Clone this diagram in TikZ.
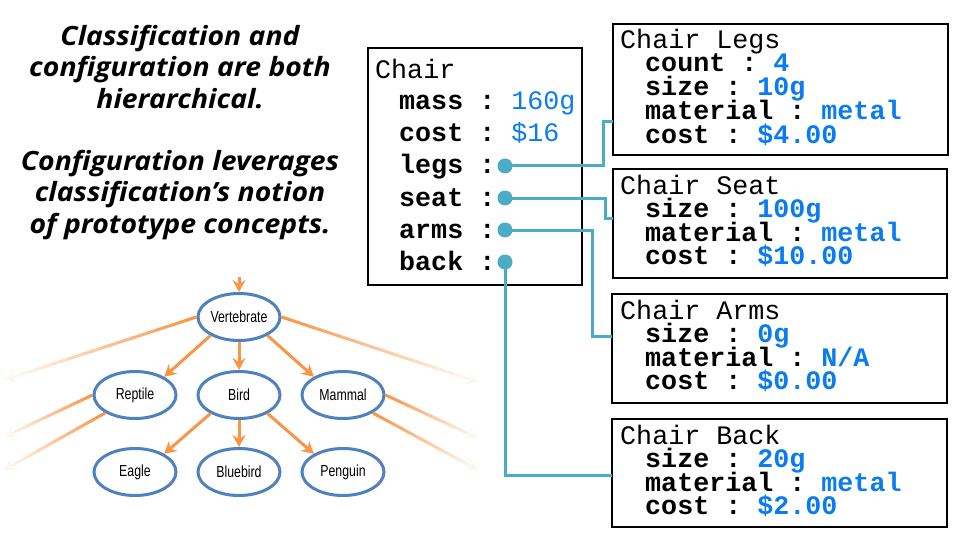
\documentclass[tikz,border=0pt]{standalone}
\usepackage{fontspec}
\setmonofont{Liberation Mono}
\newfontfamily\comicfont[FakeStretch=1.07]{Open Sans}
\newfontfamily\narrowsans[FakeStretch=0.77]{Liberation Sans}
\usetikzlibrary{arrows.meta,calc,shapes.geometric}
\definecolor{orng}{HTML}{F79646}
\definecolor{ellblue}{HTML}{4F81BD}
\definecolor{tealc}{HTML}{4BACC6}
\definecolor{valblue}{RGB}{10,124,240}
\newcommand\myfade[2]{%
  \foreach \i in {0,...,21}{%
    \pgfmathsetmacro\pc{100-4.2*\i}%
    \draw[line width=3pt, orng!\pc!white] ($(#1)!{\i/24}!(#2)$) -- ($(#1)!{(\i+1.1)/24}!(#2)$);
  }%
  \draw[line width=3pt, orng!8!white, -{Stealth[length=12pt,width=13pt,inset=4pt]}] ($(#1)!{22/24}!(#2)$) -- (#2);
}
\tikzset{
  ell/.style={ellipse, draw=ellblue, line width=3pt, fill=white, minimum width=82pt, minimum height=47pt, inner sep=0pt, font=\narrowsans\fontsize{16}{16}\selectfont},
  arr/.style={draw=orng, line width=3pt, -{Stealth[length=12pt,width=13pt,inset=4pt]}},
  box/.style={draw=black, line width=1.2pt, inner sep=0pt},
  ttl/.style={anchor=base west, inner sep=0pt, text height=17pt, text depth=3pt, font=\ttfamily\fontsize{26.7}{27}\selectfont},
  row/.style={anchor=base west, inner sep=0pt, text height=17pt, text depth=3pt, font=\ttfamily\bfseries\fontsize{26.7}{27}\selectfont},
  dot/.style={circle, fill=tealc, minimum size=15pt, inner sep=0pt},
  conn/.style={draw=tealc, line width=3pt},
  heading/.style={align=center, inner sep=0pt, font=\comicfont\bfseries\itshape\fontsize{26.5}{31.5}\selectfont}
}
\newcommand\val[1]{{\color{valblue}#1}}
\newcommand\valr[1]{{\mdseries\color{valblue}#1}}
\begin{document}
\begin{tikzpicture}[x=1pt,y=-1pt]
\useasboundingbox (0,0) rectangle (960,540);
\fill[white] (0,0) rectangle (960,540);

% headings
\node[heading] (h1) at (180,67) {Classification and\\configuration are both\\hierarchical.};
\node[heading] (h2) at (180,195) {Configuration leverages\\classification’s notion\\of prototype concepts.};

% tree nodes
\node[ell] (vert) at (239,317) {Vertebrate};
\node[ell] (rept) at (135,395) {Reptile};
\node[ell] (bird) at (239,395) {Bird};
\node[ell] (mamm) at (343,395) {Mammal};
\node[ell] (eagle) at (135,472) {Eagle};
\node[ell] (blue) at (239,472) {Bluebird};
\node[ell] (peng) at (343,472) {Penguin};

\coordinate (top) at (239,277);
\coordinate (fv1) at (4,380);
\coordinate (fv2) at (478,382);
\coordinate (fr1) at (4,437);
\coordinate (fr2) at (4,470);
\coordinate (fm1) at (478,438);
\coordinate (fm2) at (478,470);

\myfade{vert.west}{fv1}
\myfade{vert.east}{fv2}
\myfade{rept.west}{fr1}
\myfade{rept.211}{fr2}
\myfade{mamm.east}{fm1}
\myfade{mamm.329}{fm2}

\draw[arr] (top) -- (vert.north);
\draw[arr] (vert.213) -- (rept.32);
\draw[arr] (vert.south) -- (bird.north);
\draw[arr] (vert.327) -- (mamm.148);
\draw[arr] (bird.213) -- (eagle.32);
\draw[arr] (bird.south) -- (blue.north);
\draw[arr] (bird.327) -- (peng.148);

% boxes
\node[box, minimum width=214pt, minimum height=237pt] (chair) at (475,166.5) {};
\node[box, minimum width=335pt, minimum height=131pt] (legs) at (780.5,89.5) {};
\node[box, minimum width=334pt, minimum height=109pt] (seat) at (780,223.5) {};
\node[box, minimum width=335pt, minimum height=109pt] (arms) at (779.5,348.5) {};
\node[box, minimum width=335pt, minimum height=108pt] (back) at (779.5,473) {};

% chair text
\node[ttl] (c0) at (375,79) {Chair};
\node[row] (c1) at (399,110) {mass : \valr{160g}};
\node[row] (c2) at (399,142) {cost : \valr{\$16}};
\node[row] (c3) at (399,174) {legs :};
\node[row] (c4) at (399,206) {seat :};
\node[row] (c5) at (399,238) {arms :};
\node[row] (c6) at (399,270) {back :};

% legs
\node[ttl] (l0) at (620,49) {Chair Legs};
\node[row] (l1) at (645,72) {count : \val{4}};
\node[row] (l2) at (645,96) {size : \val{10g}};
\node[row] (l3) at (645,120) {material : \val{metal}};
\node[row] (l4) at (645,144) {cost : \val{\$4.00}};
% seat
\node[ttl] (s0) at (620,194) {Chair Seat};
\node[row] (s1) at (645,217.5) {size : \val{100g}};
\node[row] (s2) at (645,241) {material : \val{metal}};
\node[row] (s3) at (645,264.5) {cost : \val{\$10.00}};
% arms
\node[ttl] (a0) at (620,319) {Chair Arms};
\node[row] (a1) at (645,342.5) {size : \val{0g}};
\node[row] (a2) at (645,366) {material : \val{N/A}};
\node[row] (a3) at (645,389.5) {cost : \val{\$0.00}};
% back
\node[ttl] (b0) at (620,444) {Chair Back};
\node[row] (b1) at (645,467.5) {size : \val{20g}};
\node[row] (b2) at (645,491) {material : \val{metal}};
\node[row] (b3) at (645,514.5) {cost : \val{\$2.00}};

% dots and connectors
\node[dot] (dlegs) at (505,166) {};
\node[dot] (dseat) at (505,198) {};
\node[dot] (darms) at (505,230) {};
\node[dot] (dback) at (505,262) {};
\coordinate (legsIn) at (613,122);
\coordinate (seatIn) at (613,218);
\coordinate (armsIn) at (612,336);
\coordinate (backIn) at (612,475);

\draw[conn] (dlegs.center) -| ($(legsIn)+(-10,0)$) -- (legsIn);
\draw[conn] (dseat.center) -| ($(seatIn)+(-8,0)$) -- (seatIn);
\draw[conn] (darms.center) -| ($(armsIn)+(-20,0)$) -- (armsIn);
\draw[conn] (dback.center) |- (backIn);
\end{tikzpicture}
\end{document}
